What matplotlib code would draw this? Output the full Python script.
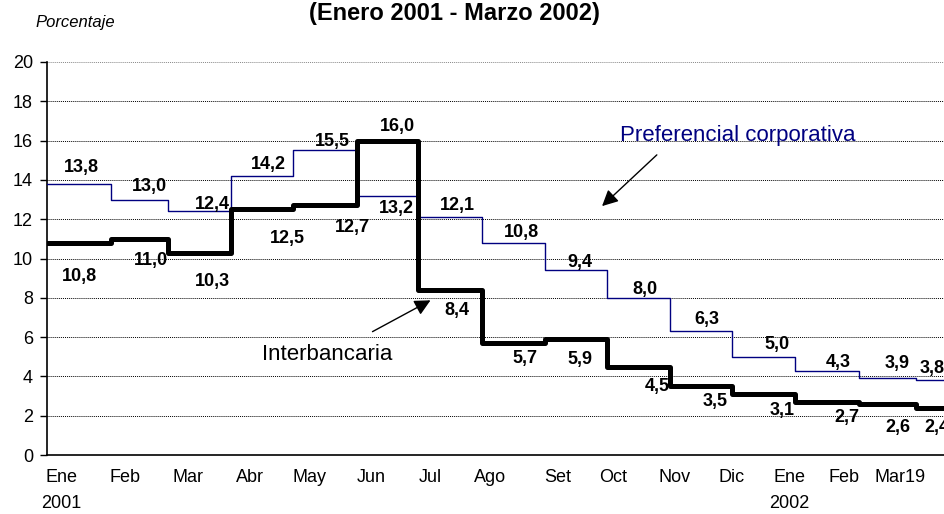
import numpy as np
import pandas as pd
import matplotlib
matplotlib.use('Agg')
import matplotlib.pyplot as plt

plt.rcParams['font.family'] = ['Liberation Sans', 'DejaVu Sans']

# ─── Data ────────────────────────────────────────────────────────────────────
start = pd.Timestamp('2001-01-01')
month_starts = pd.date_range('2001-01-01', '2002-03-01', freq='MS')
end_date = pd.Timestamp('2002-03-19')

preferencial  = [13.8, 13.0, 12.4, 14.2, 15.5, 13.2, 12.1, 10.8, 9.4, 8.0, 6.3, 5.0, 4.3, 3.9, 3.8]
interbancaria = [10.8, 11.0, 10.3, 12.5, 12.7, 16.0, 8.4, 5.7, 5.9, 4.5, 3.5, 3.1, 2.7, 2.6, 2.4]

tick_labels = ['Ene\n2001', 'Feb', 'Mar', 'Abr', 'May', 'Jun', 'Jul', 'Ago', 'Set',
               'Oct', 'Nov', 'Dic', 'Ene\n2002', 'Feb', 'Mar19']
tick_days = [7, 38, 69, 99, 128, 158, 187, 216, 249, 276, 306, 334, 362, 389, 416]

# label offsets in pixels (dx, dy) from segment middle
pref_off  = [(3, 16), (10, 13), (13, 7), (6, 11), (8, 9), (9, -13), (8, 12), (8, 10),
             (4, 8), (7, 8), (6, 12), (14, 12), (11, 8), (10, 15), (-2, 12)]
inter_off = [(1, -34), (12, -22), (13, -29), (25, -29), (28, -22), (10, 14), (7, -21),
             (12, -16), (4, -20), (19, -20), (14, -15), (19, -16), (20, -16), (10, -24), (2, -20)]

edges = np.append((month_starts - start).days.values, (end_date - start).days)
mids = (edges[:-1] + edges[1:]) / 2

# ─── Figure ──────────────────────────────────────────────────────────────────
W, H = 944, 514
fig = plt.figure(figsize=(W / 100, H / 100), dpi=100)
ax = fig.add_axes([47 / W, (H - 455) / H, (953 - 47) / W, (455 - 62) / H])

ax.step(edges, preferencial + [preferencial[-1]], where='post', color='#000080', lw=1, zorder=3)
ax.step(edges, interbancaria + [interbancaria[-1]], where='post', color='black', lw=3.6, zorder=4)

for m, v, (dx, dy) in zip(mids, preferencial, pref_off):
    ax.annotate(f'{v:.1f}'.replace('.', ','), (m, v), xytext=(dx, dy), textcoords='offset pixels',
                ha='center', va='center', fontsize=13, fontweight='bold', zorder=5)
for m, v, (dx, dy) in zip(mids, interbancaria, inter_off):
    ax.annotate(f'{v:.1f}'.replace('.', ','), (m, v), xytext=(dx, dy), textcoords='offset pixels',
                ha='center', va='center', fontsize=13, fontweight='bold', zorder=5)

# series annotations with arrows
ax.text(337, 16.28, 'Preferencial corporativa', color='#000080', fontsize=16,
        ha='center', va='center', zorder=5)
ax.annotate('', xy=(269.8, 12.57), xytext=(298.5, 15.37),
            arrowprops=dict(arrowstyle='-|>', color='black', lw=1, mutation_scale=24))
ax.text(136.6, 5.09, 'Interbancaria', color='black', fontsize=16,
        ha='center', va='center', zorder=5)
ax.annotate('', xy=(188.3, 7.94), xytext=(157.6, 6.21),
            arrowprops=dict(arrowstyle='-|>', color='black', lw=1, mutation_scale=24))

# axes
ax.set_xlim(0, edges[-1])
ax.set_ylim(0, 20)
ax.set_yticks(np.arange(0, 21, 2))
ax.set_xticks(tick_days)
ax.set_xticklabels(tick_labels)
for lbl in ax.get_xticklabels():
    lbl.set_linespacing(1.7)
ax.tick_params(axis='x', length=0, pad=10, labelsize=13)
ax.tick_params(axis='y', length=5, direction='out', pad=5, labelsize=13, width=1)
ax.grid(axis='y', color='black', linestyle=(0, (1, 1)), lw=0.7, zorder=1)
ax.get_ygridlines()[-1].set_color('#888888')
ax.set_axisbelow(True)
for s in ['top', 'right']:
    ax.spines[s].set_visible(False)
ax.spines['left'].set_linewidth(1.2)
ax.spines['bottom'].set_linewidth(1.2)

fig.text(454 / W, (H - 20) / H, '(Enero 2001 - Marzo 2002)', ha='center', va='baseline',
         fontsize=17, fontweight='bold')
fig.text(35 / W, (H - 27) / H, 'Porcentaje', ha='left', va='baseline',
         fontsize=12, style='italic')

plt.savefig('out.png', dpi=100)
plt.close()
